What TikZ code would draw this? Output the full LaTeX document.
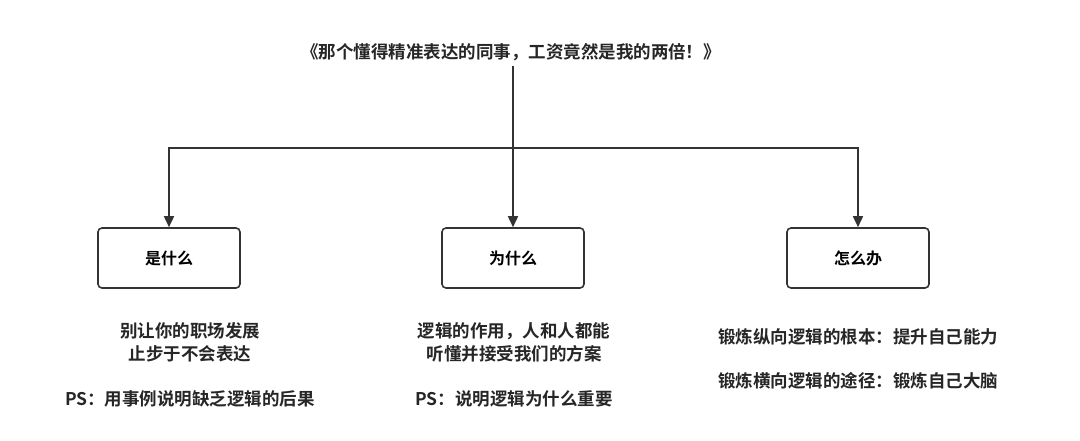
\documentclass[tikz,border=0pt]{standalone}
\usepackage{fontspec}
\setmainfont{Noto Sans CJK SC}[BoldFont={Noto Sans CJK SC Bold}]
\usetikzlibrary{arrows.meta}
\begin{document}
\begin{tikzpicture}[x=1pt,y=-1pt,
  box/.style={draw=black!80,line width=1.6pt,rounded corners=4pt,minimum width=142pt,minimum height=60pt,font=\fontsize{16}{18}\selectfont\bfseries},
  txt/.style={font=\fontsize{17.5}{23}\selectfont\bfseries,text=black!85,align=center},
  con/.style={draw=black!80,line width=1.6pt},
  arr/.style={con,-{Triangle[length=11pt,width=10pt]}}]
\useasboundingbox (0,0) rectangle (1080,440);
\node[txt] (t) at (511,52) {《那个懂得精准表达的同事，工资竟然是我的两倍！》};
\node[box] (a) at (169,258) {是什么};
\node[box] (b) at (513,258) {为什么};
\node[box] (c) at (858,258) {怎么办};
\coordinate (j) at (513,148);
\draw[con] (513,66) -- (j);
\draw[arr] (j) -- (b.north);
\draw[arr] (j) -| (a.north);
\draw[arr] (j) -| (c.north);
\node[txt] (a1) at (190,342) {别让你的职场发展\\止步于不会表达};
\node[txt] (a2) at (190,399) {PS：用事例说明缺乏逻辑的后果};
\node[txt] (b1) at (514,342) {逻辑的作用，人和人都能\\听懂并接受我们的方案};
\node[txt] (b2) at (514,399) {PS：说明逻辑为什么重要};
\node[txt] (c1) at (858,337) {锻炼纵向逻辑的根本：提升自己能力};
\node[txt] (c2) at (858,381) {锻炼横向逻辑的途径：锻炼自己大脑};
\end{tikzpicture}
\end{document}
